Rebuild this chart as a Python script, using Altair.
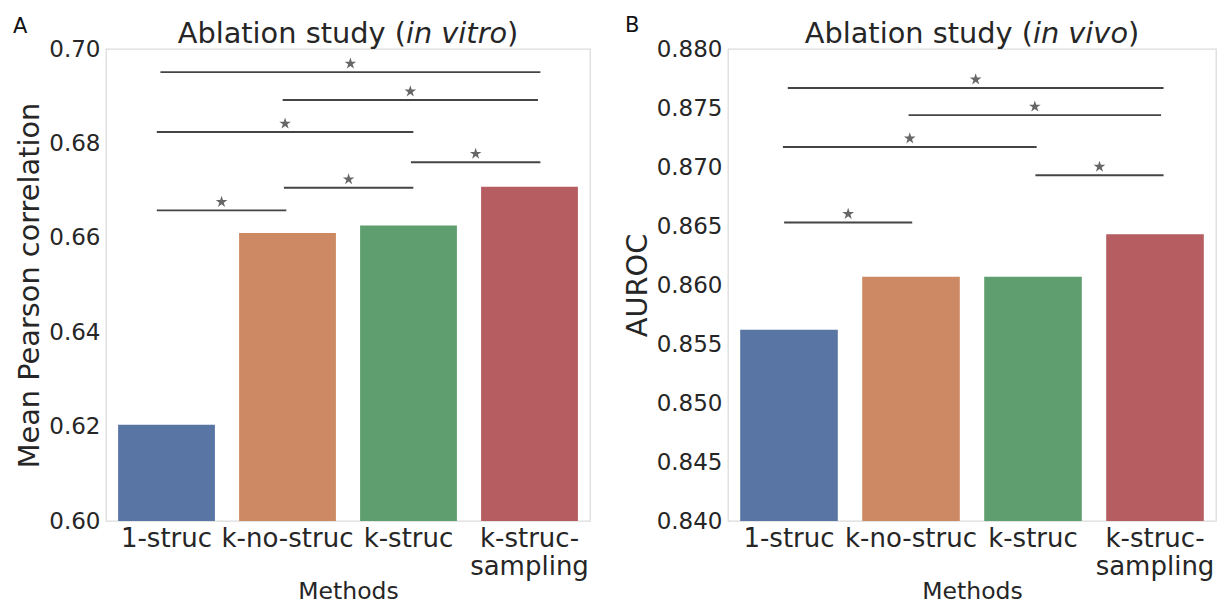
import altair as alt
import pandas as pd

# ---------------- data ----------------
methods = ["1-struc", "k-no-struc", "k-struc", "k-struc-sampling"]
bar_colors = ["#5975a4", "#cc8963", "#5f9e6e", "#b55d60"]

vitro_values = [0.6204, 0.6610, 0.6626, 0.6708]
vivo_values = [0.8562, 0.8607, 0.8607, 0.8643]

vitro_ticks = [0.60, 0.62, 0.64, 0.66, 0.68, 0.70]
vivo_ticks = [0.840, 0.845, 0.850, 0.855, 0.860, 0.865, 0.870, 0.875, 0.880]

# significance brackets (x in band units 0..4, y in data units)
vitro_br_x1 = [0.45, 1.46, 0.42, 2.52, 1.47, 0.42]
vitro_br_x2 = [3.59, 3.57, 2.54, 3.59, 2.54, 1.49]
vitro_br_y = [0.6951, 0.6892, 0.6824, 0.6760, 0.6706, 0.6658]

vivo_br_x1 = [0.49, 1.48, 0.45, 2.52, 0.46]
vivo_br_x2 = [3.57, 3.55, 2.53, 3.57, 1.51]
vivo_br_y = [0.8767, 0.8744, 0.8717, 0.8693, 0.8653]

title_vitro = ["Ablation study (", "in vitro", ")"]
title_vivo = ["Ablation study (", "in vivo", ")"]
# approximate advance widths (em) of the title pieces in DejaVu Sans
title_vitro_em = [7.924, 3.514, 0.390]
title_vivo_em = [7.924, 3.303, 0.390]

STAR = ("M0,-1L0.2245,-0.309L0.951,-0.309L0.363,0.118L0.588,0.809L0,0.382"
        "L-0.588,0.809L-0.363,0.118L-0.951,-0.309L-0.2245,-0.309Z")

FONT = "DejaVu Sans"
TXT = "#262626"
H = 472
TITLE_FS = 28.8


def panel(values, ticks, yfmt, ytitle, br_x1, br_x2, br_y, tparts, tem, letter,
          width, letter_dx, letter_dy, title_dx):
    ydom = [ticks[0], ticks[-1]]
    yscale = alt.Scale(domain=ydom, nice=False, zero=False)
    xq = alt.Scale(domain=[0, 4], nice=False, zero=False)

    bars_df = pd.DataFrame({"method": methods, "value": values})
    br_df = pd.DataFrame({"x1": br_x1, "x2": br_x2, "value": br_y})

    bars = alt.Chart(bars_df).mark_bar(clip=True).encode(
        x=alt.X("method:N", sort=methods,
                scale=alt.Scale(paddingInner=0.2, paddingOuter=0.1),
                axis=alt.Axis(title="Methods", labelAngle=0,
                              labelExpr="datum.label == 'k-struc-sampling' ? ['k-struc-', 'sampling'] : datum.label",
                              labelFontSize=26, labelPadding=4, labelLineHeight=28,
                              titleFontSize=23.5, titlePadding=0)),
        y=alt.Y("value:Q", scale=yscale,
                axis=alt.Axis(values=ticks, format=yfmt, title=ytitle,
                              labelFontSize=23, labelPadding=6,
                              titleFontSize=TITLE_FS, titlePadding=4)),
        color=alt.Color("method:N", scale=alt.Scale(domain=methods, range=bar_colors),
                        legend=None),
    )

    rules = alt.Chart(br_df).mark_rule(color="#444444", strokeWidth=1.9).encode(
        x=alt.X("x1:Q", scale=xq, axis=None),
        x2="x2:Q",
        y=alt.Y("value:Q", scale=yscale),
    )

    stars = alt.Chart(br_df).transform_calculate(
        mid="(datum.x1 + datum.x2) / 2"
    ).mark_point(shape=STAR, filled=True, size=150, color="#666666",
                 opacity=1, yOffset=-8.5).encode(
        x=alt.X("mid:Q", scale=xq, axis=None),
        y=alt.Y("value:Q", scale=yscale),
    )

    one = pd.DataFrame({"k": [0]})
    total = sum(tem) * TITLE_FS
    x0 = width / 2 + title_dx - total / 2
    xa = x0 + tem[0] * TITLE_FS
    xb = xa + tem[1] * TITLE_FS
    ty = -6
    t1 = alt.Chart(one).mark_text(text=tparts[0], font=FONT, fontSize=TITLE_FS,
                                  color=TXT, align="right", baseline="alphabetic").encode(
        x=alt.value(xa), y=alt.value(ty))
    t2 = alt.Chart(one).mark_text(text=tparts[1], font=FONT, fontSize=TITLE_FS,
                                  fontStyle="italic", color=TXT, align="left",
                                  baseline="alphabetic").encode(
        x=alt.value(xa), y=alt.value(ty))
    t3 = alt.Chart(one).mark_text(text=tparts[2], font=FONT, fontSize=TITLE_FS,
                                  color=TXT, align="left", baseline="alphabetic").encode(
        x=alt.value(xb), y=alt.value(ty))
    lab = alt.Chart(one).mark_text(text=letter, font=FONT,
                                   fontSize=21, color="#111111", align="left",
                                   baseline="alphabetic").encode(
        x=alt.value(letter_dx), y=alt.value(letter_dy))

    return alt.layer(bars, rules, stars, t1, t2, t3, lab).resolve_scale(
        x="independent"
    ).properties(width=width, height=H)


pa = panel(vitro_values, vitro_ticks, ".2f", "Mean Pearson correlation",
           vitro_br_x1, vitro_br_x2, vitro_br_y, title_vitro, title_vitro_em, "A",
           484, -93, -16.5, 0)
pb = panel(vivo_values, vivo_ticks, ".3f", "AUROC",
           vivo_br_x1, vivo_br_x2, vivo_br_y, title_vivo, title_vivo_em, "B",
           488, -103, -17, 0)

chart = alt.hconcat(pa, pb, spacing=31).properties(
    padding={"left": 4, "top": 6, "right": 0, "bottom": 0}
).configure_view(
    stroke="#dcdcdc", strokeWidth=1.3
).configure_axis(
    domain=False, ticks=False, grid=False,
    labelFont=FONT, titleFont=FONT, labelColor=TXT, titleColor=TXT,
    titleFontWeight="normal"
)

chart.save("out.html", embed_options={"renderer": "svg", "actions": False})
